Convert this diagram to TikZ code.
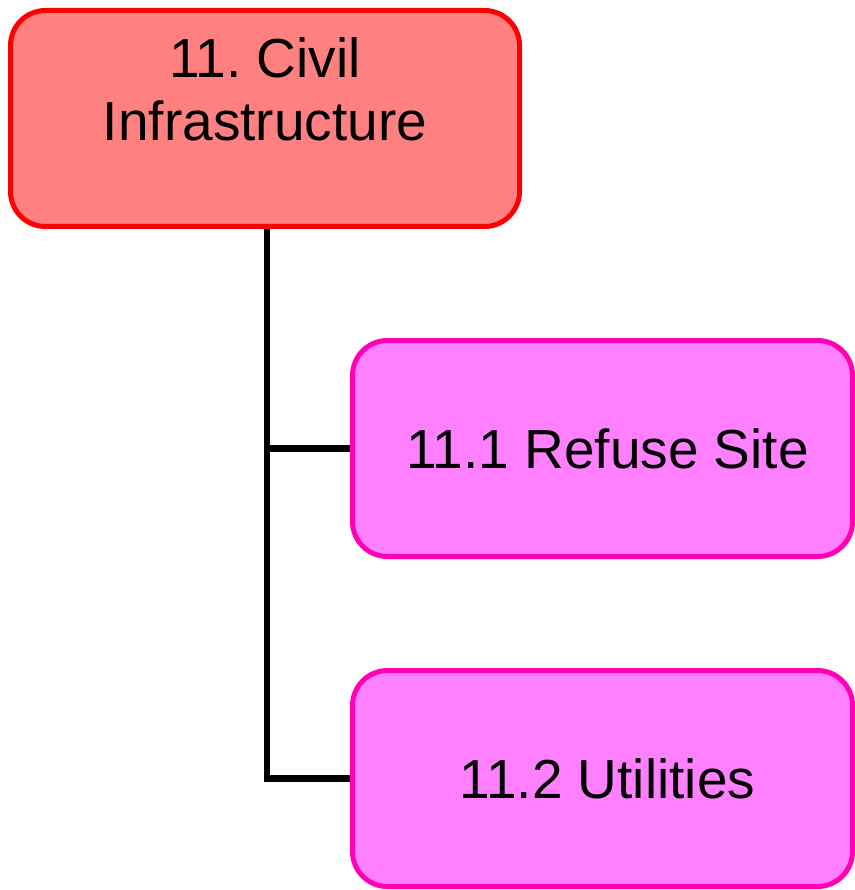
\documentclass[tikz,border=0pt]{standalone}
\usepackage{fontspec}
\setmainfont{Liberation Sans}
\usetikzlibrary{positioning}
\definecolor{civilfill}{HTML}{FF8080}
\definecolor{civilline}{HTML}{FF0000}
\definecolor{subfill}{HTML}{FF80FF}
\definecolor{subline}{HTML}{FF00B4}
\frenchspacing

\tikzset{
    wbsbox/.style={rectangle, rounded corners=35pt, line width=5pt, inner sep=0pt,
        minimum width=500pt, minimum height=216pt, align=center,
        font=\fontsize{55}{63}\selectfont},
    civilbox/.style={wbsbox, draw=civilline, fill=civilfill, minimum width=509pt},
    subbox/.style={wbsbox, draw=subline, fill=subfill},
    branch/.style={line width=6.5pt, draw=black}
}

\begin{document}
\begin{tikzpicture}[x=1pt, y=-1pt]
    \useasboundingbox (0,0) rectangle (854,890);

    % Parent element
    \node[civilbox] (civil) at (265, 118.5) {};
    \node[below=26pt of civil.north, align=center, font=\fontsize{55}{63}\selectfont]
        (civilText) {11. Civil\\Infrastructure};

    % Sub-elements
    \node[subbox] (refuse) at (602.5, 448.5) {\hspace{10pt}11.1 Refuse Site};
    \node[subbox] (util) at (602.5, 778.5) {\hspace{10pt}11.2 Utilities};

    % Tree branches
    \draw[branch] ([xshift=2pt]civil.south) |- (refuse.west);
    \draw[branch] ([xshift=2pt]civil.south) |- (util.west);
\end{tikzpicture}
\end{document}
